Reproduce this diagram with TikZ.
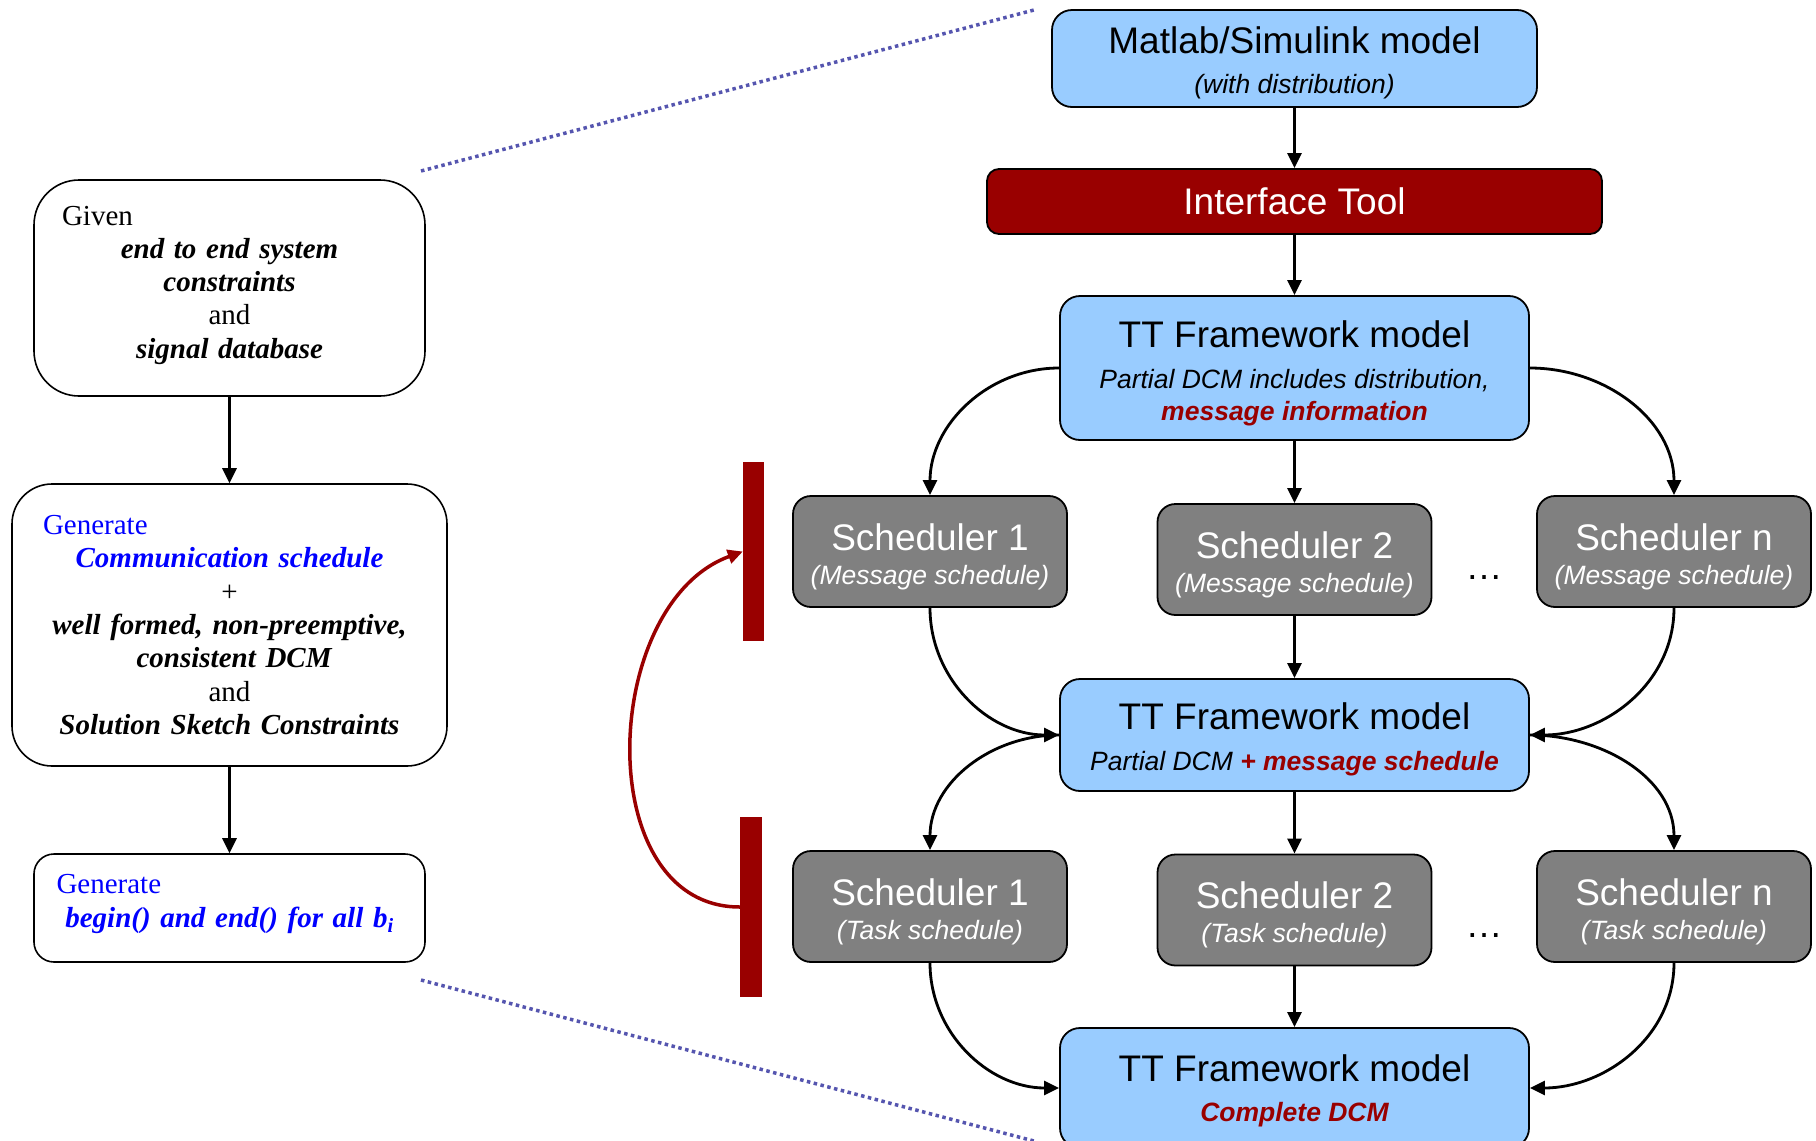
\documentclass[tikz,border=0pt]{standalone}
\usepackage{fontspec}
\setmainfont{Liberation Serif}
\newfontfamily\arialf{Liberation Sans}
\usetikzlibrary{arrows.meta}
\definecolor{lblue}{HTML}{99CCFF}
\definecolor{dred}{HTML}{990000}
\definecolor{sgray}{HTML}{808080}
\definecolor{dotc}{RGB}{85,85,175}
\definecolor{tblue}{HTML}{0000FF}
\newcommand\ttlfont{\arialf\fontsize{37}{40}\selectfont}
\newcommand\subfont{\arialf\fontsize{26.5}{32.3}\selectfont}
\newcommand\pushtop[1]{\rule{0pt}{#1}}
\newcommand\pushbot[1]{\rule[-#1]{0pt}{0pt}}
\begin{document}
\begin{tikzpicture}[x=1pt,y=1pt,
  bluebox/.style={draw=black, line width=1.8pt, fill=lblue, rounded corners=20pt, inner sep=0pt, align=center, font=\subfont},
  schedbox/.style={draw=black, line width=1.8pt, fill=sgray, rounded corners=18pt, minimum width=274pt, minimum height=111pt, inner sep=0pt, align=center, text=white, font=\subfont},
  leftbox/.style={draw=black, line width=1.6pt, fill=white, inner sep=0pt, align=center, font=\fontsize{29}{33.3}\selectfont},
  conn/.style={line width=2.8pt, -{Triangle[length=15pt,width=14pt]}},
  dotline/.style={dotc, line width=3.5pt, dash pattern=on 3.5pt off 3.5pt},
  redbar/.style={fill=dred, draw=none, inner sep=0pt},
  dotsnode/.style={font=\ttlfont, anchor=base, inner sep=0pt},
]
\useasboundingbox (0,0) rectangle (1816,-1141);

% dotted zoom lines
\coordinate (d1a) at (421,-171);
\coordinate (d1b) at (1034,-10);
\coordinate (d2a) at (421,-980);
\coordinate (d2b) at (1034,-1141);
\draw[dotline] (d1a) -- (d1b);
\draw[dotline] (d2a) -- (d2b);

% left column
\node[leftbox, rounded corners=45pt, minimum width=391pt, minimum height=216pt, text width=335pt] (given) at (229.5,-288)
 {Given\hfill\null\\ \textbf{\textit{end to end system}}\\ \textbf{\textit{constraints}}\\ and\\ \textbf{\textit{signal database}}\pushbot{12pt}};
\node[leftbox, rounded corners=40pt, minimum width=435pt, minimum height=282pt, text width=373pt] (gen1) at (229.5,-625)
 {{\color{tblue}Generate\hfill\null}\\ {\color{tblue}\bfseries\itshape Communication schedule}\\ +\\ \textbf{\textit{well formed, non-preemptive,}}\\ \hspace*{10pt}\textbf{\textit{consistent DCM}}\\ and\\ \textbf{\textit{Solution Sketch Constraints}}};
\node[leftbox, rounded corners=20pt, minimum width=391pt, minimum height=108pt, text width=346pt] (gen2) at (229.5,-908)
 {{\color{tblue}Generate\hfill\null}\\ {\color{tblue}\bfseries\itshape begin() and end() for all b\textsubscript{i}}\pushbot{14pt}};
\draw[conn] (given) -- (gen1);
\draw[conn] (gen1) -- (gen2);

% right column
\node[bluebox, minimum width=485pt, minimum height=97pt] (matlab) at (1294.5,-58.5)
 {\pushtop{36pt}{\ttlfont Matlab/Simulink model}\\[7.5pt]\itshape (with distribution)};
\node[draw=black, line width=1.8pt, fill=dred, rounded corners=12pt, minimum width=615pt, minimum height=65pt, inner sep=0pt, text=white, font=\ttlfont] (iface) at (1294.5,-201.5) {Interface Tool};
\node[bluebox, minimum width=469pt, minimum height=144pt] (tt1) at (1294.5,-368)
 {\pushtop{37pt}{\ttlfont TT Framework model}\\[8.5pt]\itshape Partial DCM includes distribution,\\ \color{dred}\bfseries\itshape message information};

\node[schedbox] (s1m) at (930,-551.5) {\pushtop{37pt}{\ttlfont Scheduler 1}\\[2pt]\itshape (Message schedule)};
\node[schedbox] (s2m) at (1294.5,-559.5) {\pushtop{37pt}{\ttlfont Scheduler 2}\\[2pt]\itshape (Message schedule)};
\node[schedbox] (snm) at (1674,-551.5) {\pushtop{37pt}{\ttlfont Scheduler n}\\[2pt]\itshape (Message schedule)};
\node[dotsnode] (dots1) at (1484,-579) {…};

\node[bluebox, minimum width=469pt, minimum height=112pt] (tt2) at (1294.5,-735)
 {\pushtop{36pt}{\ttlfont TT Framework model}\\[9pt]\itshape Partial DCM {\color{dred}\bfseries + message schedule}};

\node[schedbox] (s1t) at (930,-906.5) {\pushtop{37pt}{\ttlfont Scheduler 1}\\[2pt]\itshape (Task schedule)};
\node[schedbox] (s2t) at (1294.5,-910) {\pushtop{37pt}{\ttlfont Scheduler 2}\\[2pt]\itshape (Task schedule)};
\node[schedbox] (snt) at (1674,-906.5) {\pushtop{37pt}{\ttlfont Scheduler n}\\[2pt]\itshape (Task schedule)};
\node[dotsnode] (dots2) at (1484,-937) {…};

\node[bluebox, minimum width=469pt, minimum height=120pt] (tt3) at (1294.5,-1088)
 {\pushtop{32pt}{\ttlfont TT Framework model}\\[8pt]\color{dred}\bfseries\itshape Complete DCM};

\draw[conn] (matlab) -- (iface);
\draw[conn] (iface) -- (tt1);
\draw[conn] (tt1.west) to[out=180,in=90] (s1m.north);
\draw[conn] (tt1) -- (s2m);
\draw[conn] (tt1.east) to[out=0,in=90] (snm.north);
\draw[conn] (s1m.south) to[out=-90,in=180] (tt2.west);
\draw[conn] (s2m) -- (tt2);
\draw[conn] (snm.south) to[out=-90,in=0] (tt2.east);
\draw[conn] (tt2.west) to[out=180,in=90] (s1t.north);
\draw[conn] (tt2) -- (s2t);
\draw[conn] (tt2.east) to[out=0,in=90] (snt.north);
\draw[conn] (s1t.south) to[out=-90,in=180] (tt3.west);
\draw[conn] (s2t) -- (tt3);
\draw[conn] (snt.south) to[out=-90,in=0] (tt3.east);

% red bars and feedback arc
\node[redbar, minimum width=21pt, minimum height=179pt] (bar1) at (753.5,-551.5) {};
\node[redbar, minimum width=22pt, minimum height=180pt] (bar2) at (751,-907) {};
\draw[dred, line width=3.5pt, -{Triangle[length=15pt,width=14pt]}] (bar2.west) .. controls +(-150,0) and +(-143,-52) .. (bar1.west);
\end{tikzpicture}
\end{document}
